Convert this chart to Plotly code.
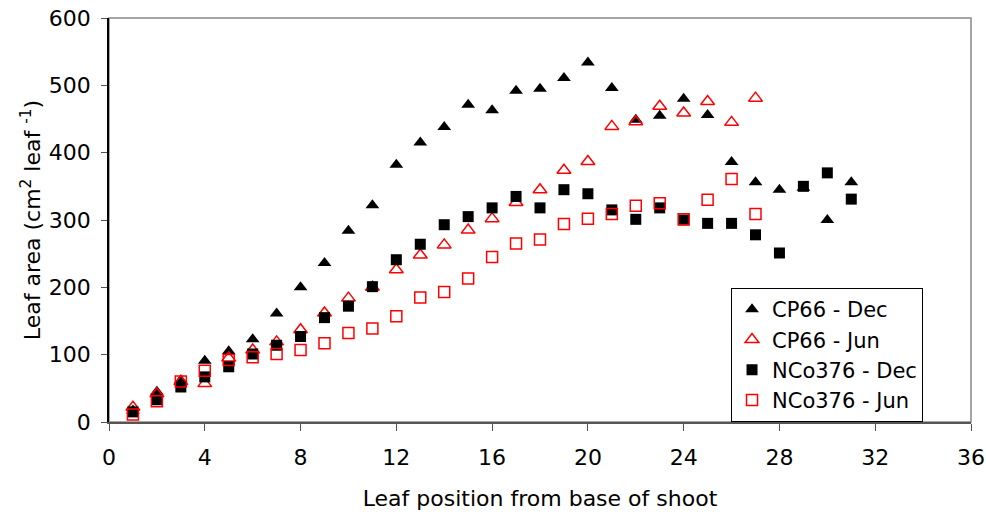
import plotly.graph_objects as go

cp66_dec_x = list(range(1, 32))
cp66_dec = [17, 45, 62, 91, 105, 123, 161, 200, 236, 284, 322, 382, 415, 438, 471, 463,
            492, 495, 511, 534, 496, 449, 455, 480, 456, 386, 356, 345, 348, 300, 356]

cp66_jun_x = list(range(1, 28))
cp66_jun = [22, 42, 60, 57, 95, 107, 119, 137, 162, 184, 200, 226, 248, 263, 285, 302,
            326, 345, 374, 387, 439, 446, 469, 459, 476, 445, 481]

nco_dec_x = list(range(1, 32))
nco_dec = [15, 33, 52, 67, 82, 101, 114, 127, 155, 172, 201, 241, 264, 293, 305, 318,
           335, 318, 345, 339, 315, 301, 318, 300, 295, 295, 278, 251, 350, 370, 331]

nco_jun_x = list(range(1, 28))
nco_jun = [11, 31, 60, 76, 92, 96, 101, 107, 117, 132, 139, 157, 185, 193, 213, 245,
           265, 271, 294, 302, 309, 321, 325, 301, 330, 361, 309]

x_ticks = [0, 4, 8, 12, 16, 20, 24, 28, 32, 36]
y_ticks = [0, 100, 200, 300, 400, 500, 600]

FONT = "DejaVu Sans"
FS = 22

fig = go.Figure()
fig.add_trace(go.Scatter(x=cp66_dec_x, y=cp66_dec, mode="markers", name="CP66 - Dec",
                         marker=dict(symbol="triangle-up", size=12, color="black",
                                     line=dict(width=0))))
fig.add_trace(go.Scatter(x=cp66_jun_x, y=cp66_jun, mode="markers", name="CP66 - Jun",
                         marker=dict(symbol="triangle-up-open", size=12, color="#ff0000",
                                     line=dict(width=1.5, color="#ff0000"))))
fig.add_trace(go.Scatter(x=nco_dec_x, y=nco_dec, mode="markers", name="NCo376 - Dec",
                         marker=dict(symbol="square", size=11, color="black",
                                     line=dict(width=0))))
fig.add_trace(go.Scatter(x=nco_jun_x, y=nco_jun, mode="markers", name="NCo376 - Jun",
                         marker=dict(symbol="square-open", size=11, color="#ff0000",
                                     line=dict(width=1.5, color="#ff0000"))))

fig.add_shape(type="rect", xref="paper", yref="paper", x0=0, y0=0, x1=1, y1=1,
              line=dict(color="#888888", width=1.5), layer="below")

fig.update_layout(
    width=986, height=515,
    margin=dict(l=109, r=15, t=18, b=93),
    paper_bgcolor="white", plot_bgcolor="white",
    font=dict(family=FONT, size=FS, color="black"),
    showlegend=True,
    legend=dict(x=0.7216, y=0, xanchor="left", yanchor="bottom",
                bordercolor="black", borderwidth=1, bgcolor="white",
                font=dict(family=FONT, size=21, color="black"),
                tracegroupgap=0, itemwidth=30),
    xaxis=dict(range=[0, 36], tickvals=x_ticks, ticks="outside", ticklen=7,
               tickcolor="#555555", showline=True, linecolor="#555555", linewidth=1.5,
               showgrid=False, zeroline=False, ticklabelstandoff=8, automargin=False,
               title=dict(text="Leaf position from base of shoot", standoff=21,
                          font=dict(family=FONT, size=FS))),
    yaxis=dict(range=[0, 600], tickvals=y_ticks, ticks="outside", ticklen=6,
               tickcolor="#555555", showline=True, linecolor="black", linewidth=1.5,
               showgrid=False, zeroline=False, ticklabelstandoff=6, automargin=False,
               title=dict(text="Leaf area (cm<sup>2</sup> leaf <sup>-1</sup>)", standoff=2,
                          font=dict(family=FONT, size=FS))),
)

fig.write_html("out.html")
